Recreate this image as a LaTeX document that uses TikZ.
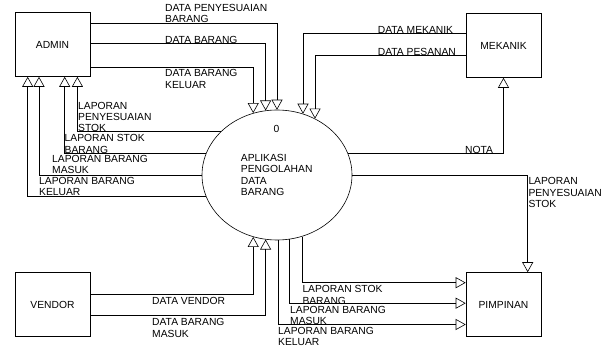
\documentclass[tikz,border=0pt]{standalone}
\usepackage{fontspec}
\setmainfont{Liberation Sans}
\usetikzlibrary{arrows.meta,shapes.geometric}

\begin{document}
\begin{tikzpicture}[x=1pt,y=-1pt,
	every node/.style={font=\fontsize{10.3}{11.4}\selectfont},
	ent/.style={draw,line width=0.6pt,minimum width=75pt,minimum height=64pt,inner sep=0pt},
	proc/.style={draw,ellipse,line width=0.6pt,minimum width=150pt,minimum height=130pt,inner sep=0pt},
	flow/.style={-{Triangle[open,length=10pt,width=11pt]},line width=0.6pt},
	lbl/.style={anchor=north west,inner sep=0pt,align=left}]
		\useasboundingbox (0,0) rectangle (616,347);
		\node[ent] (admin) at (52.5,44.5) {ADMIN};
		\node[ent] (mek) at (503.5,45.5) {MEKANIK};
		\node[ent] (vendor) at (52.5,304.5) {VENDOR};
		\node[ent] (pim) at (503.5,304.5) {PIMPINAN};
		\node[proc] (proc) at (277,175) {};
		\node[lbl] (num) at (273.5,125) {0};
		\node[lbl] (name) at (240.7,154) {APLIKASI\\PENGOLAHAN\\DATA\\BARANG};
		\draw[flow] ([yshift=-10.8pt]admin.north east) -| (proc.north);
		\draw[flow] ([yshift=-31.5pt]admin.north east) -| (proc.100);
		\draw[flow] ([yshift=-55.2pt]admin.north east) -| (proc.111);
		\node[lbl] (dpb) at (165,4) {DATA PENYESUAIAN\\BARANG};
		\node[lbl] (db) at (165,36) {DATA BARANG};
		\node[lbl] (dbk) at (165,69.3) {DATA BARANG\\KELUAR};
		\draw[flow] ([yshift=-20.5pt]mek.north west) -| (proc.67);
		\draw[flow] ([yshift=-42.5pt]mek.north west) -| (proc.56);
		\node[lbl] (dm) at (377.7,26) {DATA MEKANIK};
		\node[lbl] (dp) at (377.7,47.7) {DATA PESANAN};
		\draw[flow] (proc.17) -| (mek.south);
		\node[lbl] (nota) at (465,145.7) {NOTA};
		\draw[flow] (proc.east) -| ([xshift=24.2pt]pim.north);
		\node[lbl] (lpsp) at (528.3,177.3) {LAPORAN\\PENYESUAIAN\\STOK};
		\draw[flow] (proc.142) -| ([xshift=62.7pt]admin.south west);
		\draw[flow] (proc.163) -| ([xshift=50pt]admin.south west);
		\draw[flow] (proc.west) -| ([xshift=24.3pt]admin.south west);
		\draw[flow] (proc.197) -| ([xshift=13pt]admin.south west);
		\node[lbl] (lps) at (78,101.7) {LAPORAN\\PENYESUAIAN\\STOK};
		\node[lbl] (lsb) at (64.5,134.5) {LAPORAN STOK\\BARANG};
		\node[lbl] (lbm) at (52,155) {LAPORAN BARANG\\MASUK};
		\node[lbl] (lbk) at (39,176.7) {LAPORAN BARANG\\KELUAR};
		\draw[flow] ([yshift=-21.8pt]vendor.north east) -| (proc.249);
		\draw[flow] ([yshift=-43.5pt]vendor.north east) -| (proc.260);
		\node[lbl] (dv) at (152,296.7) {DATA VENDOR};
		\node[lbl] (dbm) at (152,318.3) {DATA BARANG\\MASUK};
		\draw[flow] (proc.292) |- ([yshift=-10.5pt]pim.north west);
		\draw[flow] (proc.281) |- ([yshift=-31pt]pim.north west);
		\draw[flow] (proc.271) |- ([yshift=-52.3pt]pim.north west);
		\node[lbl] (plsb) at (302.3,285.3) {LAPORAN STOK\\BARANG};
		\node[lbl] (plbm) at (290,306) {LAPORAN BARANG\\MASUK};
		\node[lbl] (plbk) at (278,327) {LAPORAN BARANG\\KELUAR};
		\end{tikzpicture}
\end{document}
